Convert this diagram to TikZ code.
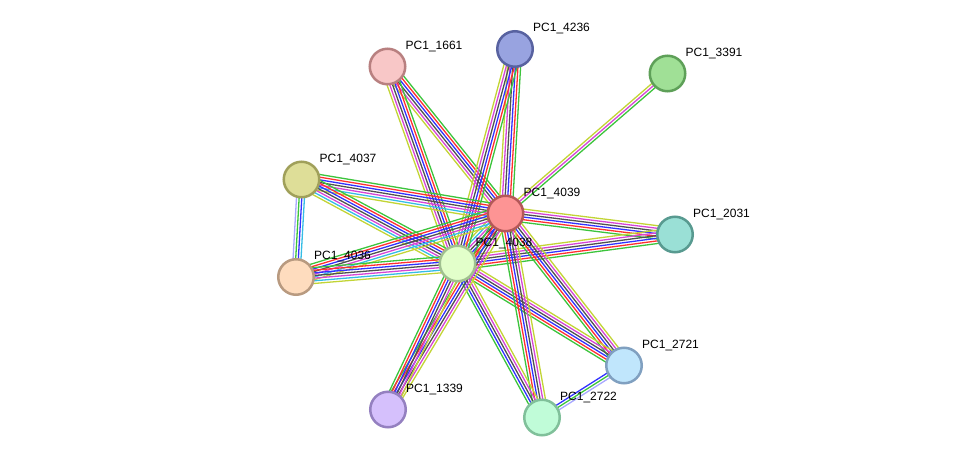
\documentclass[tikz,border=0pt]{standalone}
\usepackage{fontspec}
\setmainfont{Liberation Sans}
\usetikzlibrary{calc}
\pgfdeclarelayer{bg}
\pgfsetlayers{bg,main}
\definecolor{sgreen}{HTML}{3CC43C}
\definecolor{sred}{HTML}{FF3030}
\definecolor{sblue}{HTML}{3232FF}
\definecolor{sblack}{HTML}{505050}
\definecolor{smag}{HTML}{D645D6}
\definecolor{scyan}{HTML}{35BDE5}
\definecolor{syel}{HTML}{C2D435}
\definecolor{slav}{HTML}{A8A8FF}
\tikzset{
  prot/.style={circle, inner sep=0pt, minimum size=35.5pt, line width=2.5pt},
  lbl/.style={anchor=west, inner sep=0pt, font=\fontsize{12}{14}\selectfont},
  evline/.style={line width=1.3pt}
}
\newcommand\bundle[4]{%
  \foreach \c [count=\i] in {#4}{%
    \pgfmathsetmacro\off{(\i-(#3+1)/2)*2.65}%
    \draw[evline, draw=\c] ($(#1)!\off pt!90:(#2)$) -- ($(#2)!\off pt!-90:(#1)$);
  }%
}
\begin{document}
\begin{tikzpicture}[x=1pt,y=-1pt]
\useasboundingbox (0,0) rectangle (975,463);
% nodes
\node[prot, fill={rgb,255:red,152;green,163;blue,224}, draw={rgb,255:red,88;green,98;blue,160}] (p4236) at (515,49) {};
\node[prot, fill={rgb,255:red,248;green,199;blue,199}, draw={rgb,255:red,184;green,128;blue,128}] (p1661) at (387.5,66.5) {};
\node[prot, fill={rgb,255:red,160;green,224;blue,150}, draw={rgb,255:red,94;green,160;blue,88}] (p3391) at (667.5,73.5) {};
\node[prot, fill={rgb,255:red,222;green,222;blue,152}, draw={rgb,255:red,160;green,160;blue,90}] (p4037) at (301.5,179.5) {};
\node[prot, fill={rgb,255:red,253;green,148;blue,148}, draw={rgb,255:red,180;green,88;blue,88}] (p4039) at (505.5,213.5) {};
\node[prot, fill={rgb,255:red,154;green,224;blue,214}, draw={rgb,255:red,88;green,154;blue,144}] (p2031) at (675,234.5) {};
\node[prot, fill={rgb,255:red,226;green,255;blue,202}, draw={rgb,255:red,160;green,192;blue,144}] (p4038) at (457.5,263.5) {};
\node[prot, fill={rgb,255:red,254;green,220;blue,190}, draw={rgb,255:red,184;green,154;blue,128}] (p4036) at (296,277) {};
\node[prot, fill={rgb,255:red,192;green,230;blue,252}, draw={rgb,255:red,128;green,160;blue,192}] (p2721) at (624,365.5) {};
\node[prot, fill={rgb,255:red,213;green,192;blue,252}, draw={rgb,255:red,148;green,128;blue,192}] (p1339) at (388,409.5) {};
\node[prot, fill={rgb,255:red,192;green,252;blue,216}, draw={rgb,255:red,128;green,192;blue,154}] (p2722) at (542,417.5) {};
% labels
\foreach \n in {4236,1661,3391,4037,4039,2031,4038,4036,2721,1339,2722}{
  \node[lbl] (l\n) at ($(p\n)+(18,-20)$) {PC1\_\n};
}
% edges
\begin{pgfonlayer}{bg}
\bundle{p4038}{p4039}{7}{sgreen,sred,sblue,sblack,smag,scyan,syel}
\bundle{p4039}{p2031}{6}{sgreen,sred,sblue,sblack,smag,syel}
\bundle{p4038}{p2031}{6}{sgreen,sred,sblue,sblack,smag,syel}
\bundle{p4039}{p2721}{6}{sgreen,sred,sblue,sblack,smag,syel}
\bundle{p4038}{p2721}{6}{sgreen,sred,sblue,sblack,smag,syel}
\bundle{p4039}{p2722}{6}{sgreen,sred,sblue,sblack,smag,syel}
\bundle{p4038}{p2722}{5}{sgreen,sblue,sblack,smag,syel}
\bundle{p4039}{p1339}{6}{sgreen,sred,sblue,sblack,smag,syel}
\bundle{p4038}{p1339}{6}{sgreen,sred,sblue,sblack,smag,syel}
\bundle{p4039}{p1661}{6}{sgreen,sred,sblue,sblack,smag,syel}
\bundle{p4038}{p1661}{6}{sgreen,sred,sblue,sblack,smag,syel}
\bundle{p4039}{p4236}{6}{sgreen,sred,sblue,sblack,smag,syel}
\bundle{p4038}{p4236}{6}{sgreen,sred,sblue,sblack,smag,syel}
\bundle{p4039}{p3391}{3}{sgreen,smag,syel}
\bundle{p4039}{p4037}{7}{sgreen,sred,sblue,sblack,smag,scyan,syel}
\bundle{p4038}{p4037}{7}{sgreen,sred,sblue,sblack,smag,scyan,syel}
\bundle{p4039}{p4036}{7}{sgreen,sred,sblue,sblack,smag,scyan,syel}
\bundle{p4038}{p4036}{7}{sgreen,sred,sblue,sblack,smag,scyan,syel}
\bundle{p4037}{p4036}{4}{slav,sgreen,sblue,scyan}
\bundle{p2722}{p2721}{3}{slav,sgreen,sblue}
\end{pgfonlayer}
\end{tikzpicture}
\end{document}
